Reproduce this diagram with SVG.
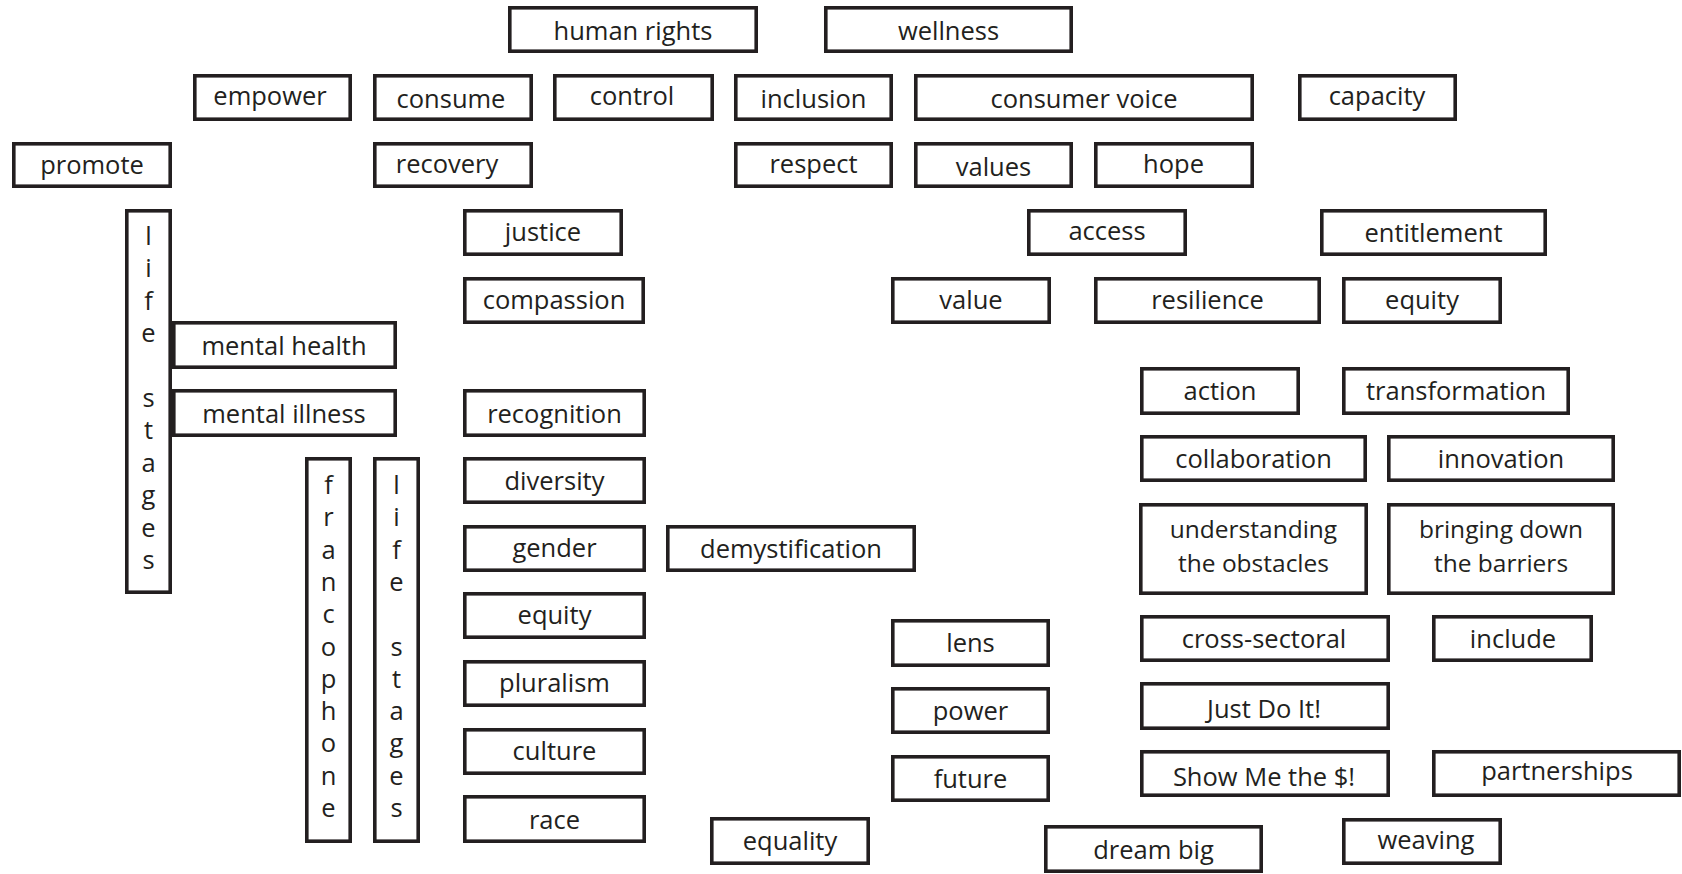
<svg xmlns="http://www.w3.org/2000/svg" width="1682" height="874" viewBox="0 0 1682 874">
<style>
.b{fill:#fff;stroke:#231f20;stroke-width:3.6}
.t{font-family:"Open Sans","DejaVu Sans",sans-serif;font-size:25.5px;fill:#231f20;text-anchor:middle}
.t2{font-size:24.5px}
</style>
<rect width="1682" height="874" fill="#fff"/>
<g id="connectors"/>
<g id="n-human-rights"><rect class="b" x="509.8" y="7.8" width="246.4" height="43.4"/><text class="t" x="633" y="39.5">human rights</text></g>
<g id="n-wellness"><rect class="b" x="825.8" y="7.8" width="245.4" height="43.4"/><text class="t" x="948.5" y="39.5">wellness</text></g>
<g id="n-empower"><rect class="b" x="194.8" y="75.8" width="155.4" height="43.4"/><text class="t" x="270" y="105">empower</text></g>
<g id="n-consume"><rect class="b" x="374.8" y="75.8" width="156.4" height="43.4"/><text class="t" x="451" y="108">consume</text></g>
<g id="n-control"><rect class="b" x="554.8" y="75.8" width="157.4" height="43.4"/><text class="t" x="632" y="105">control</text></g>
<g id="n-inclusion"><rect class="b" x="735.8" y="75.8" width="155.4" height="43.4"/><text class="t" x="813.5" y="108">inclusion</text></g>
<g id="n-consumer-voice"><rect class="b" x="915.8" y="75.8" width="336.4" height="43.4"/><text class="t" x="1084" y="108">consumer voice</text></g>
<g id="n-capacity"><rect class="b" x="1299.8" y="75.8" width="155.4" height="43.4"/><text class="t" x="1377" y="105">capacity</text></g>
<g id="n-promote"><rect class="b" x="13.8" y="143.8" width="156.4" height="42.4"/><text class="t" x="92" y="174">promote</text></g>
<g id="n-recovery"><rect class="b" x="374.8" y="143.8" width="156.4" height="42.4"/><text class="t" x="447" y="173">recovery</text></g>
<g id="n-respect"><rect class="b" x="735.8" y="143.8" width="155.4" height="42.4"/><text class="t" x="813.5" y="173">respect</text></g>
<g id="n-values"><rect class="b" x="915.8" y="143.8" width="155.4" height="42.4"/><text class="t" x="993.5" y="175.5">values</text></g>
<g id="n-hope"><rect class="b" x="1095.8" y="143.8" width="156.4" height="42.4"/><text class="t" x="1173.5" y="173">hope</text></g>
<g id="n-life-stages-1"><rect class="b" x="126.8" y="210.8" width="43.4" height="381.4"/><text class="t"><tspan x="148.5" y="245">l</tspan><tspan x="148.5" y="277.4">i</tspan><tspan x="148.5" y="309.8">f</tspan><tspan x="148.5" y="342.2">e</tspan><tspan x="148.5" y="407">s</tspan><tspan x="148.5" y="439.4">t</tspan><tspan x="148.5" y="471.8">a</tspan><tspan x="148.5" y="504.2">g</tspan><tspan x="148.5" y="536.6">e</tspan><tspan x="148.5" y="569">s</tspan></text></g>
<g id="n-justice"><rect class="b" x="464.8" y="210.8" width="156.4" height="43.4"/><text class="t" x="543" y="241">justice</text></g>
<g id="n-access"><rect class="b" x="1028.8" y="210.8" width="156.4" height="43.4"/><text class="t" x="1107" y="240">access</text></g>
<g id="n-entitlement"><rect class="b" x="1321.8" y="210.8" width="223.4" height="43.4"/><text class="t" x="1433.5" y="242">entitlement</text></g>
<g id="n-compassion"><rect class="b" x="464.8" y="278.8" width="178.4" height="43.4"/><text class="t" x="554" y="309">compassion</text></g>
<g id="n-value"><rect class="b" x="892.8" y="278.8" width="156.4" height="43.4"/><text class="t" x="971" y="309">value</text></g>
<g id="n-resilience"><rect class="b" x="1095.8" y="278.8" width="223.4" height="43.4"/><text class="t" x="1207.5" y="309">resilience</text></g>
<g id="n-equity-1"><rect class="b" x="1343.8" y="278.8" width="156.4" height="43.4"/><text class="t" x="1422" y="309">equity</text></g>
<g id="n-mental-health"><rect class="b" x="173.8" y="322.8" width="221.4" height="44.4"/><text class="t" x="284" y="355">mental health</text></g>
<g id="n-mental-illness"><rect class="b" x="173.8" y="390.8" width="221.4" height="44.4"/><text class="t" x="284" y="423">mental illness</text></g>
<g id="n-recognition"><rect class="b" x="464.8" y="390.8" width="179.4" height="44.4"/><text class="t" x="554.5" y="423">recognition</text></g>
<g id="n-action"><rect class="b" x="1141.8" y="368.8" width="156.4" height="44.4"/><text class="t" x="1220" y="400">action</text></g>
<g id="n-transformation"><rect class="b" x="1343.8" y="368.8" width="224.4" height="44.4"/><text class="t" x="1456" y="400">transformation</text></g>
<g id="n-collaboration"><rect class="b" x="1141.8" y="436.8" width="223.4" height="43.4"/><text class="t" x="1253.5" y="468">collaboration</text></g>
<g id="n-innovation"><rect class="b" x="1388.8" y="436.8" width="224.4" height="43.4"/><text class="t" x="1501" y="468">innovation</text></g>
<g id="n-francophone"><rect class="b" x="306.8" y="458.8" width="43.4" height="382.4"/><text class="t"><tspan x="328.5" y="494">f</tspan><tspan x="328.5" y="526.3">r</tspan><tspan x="328.5" y="558.6">a</tspan><tspan x="328.5" y="590.9">n</tspan><tspan x="328.5" y="623.2">c</tspan><tspan x="328.5" y="655.5">o</tspan><tspan x="328.5" y="687.8">p</tspan><tspan x="328.5" y="720.1">h</tspan><tspan x="328.5" y="752.4">o</tspan><tspan x="328.5" y="784.7">n</tspan><tspan x="328.5" y="817">e</tspan></text></g>
<g id="n-life-stages-2"><rect class="b" x="374.8" y="458.8" width="43.4" height="382.4"/><text class="t"><tspan x="396.5" y="494">l</tspan><tspan x="396.5" y="526.3">i</tspan><tspan x="396.5" y="558.6">f</tspan><tspan x="396.5" y="590.9">e</tspan><tspan x="396.5" y="655.5">s</tspan><tspan x="396.5" y="687.8">t</tspan><tspan x="396.5" y="720.1">a</tspan><tspan x="396.5" y="752.4">g</tspan><tspan x="396.5" y="784.7">e</tspan><tspan x="396.5" y="817">s</tspan></text></g>
<g id="n-diversity"><rect class="b" x="464.8" y="458.8" width="179.4" height="43.4"/><text class="t" x="554.5" y="490">diversity</text></g>
<g id="n-understanding"><rect class="b" x="1140.8" y="504.8" width="225.4" height="88.4"/><text class="t t2"><tspan x="1253.5" y="538">understanding</tspan><tspan x="1253.5" y="572">the obstacles</tspan></text></g>
<g id="n-bringing-down"><rect class="b" x="1388.8" y="504.8" width="224.4" height="88.4"/><text class="t t2"><tspan x="1501" y="538">bringing down</tspan><tspan x="1501" y="572">the barriers</tspan></text></g>
<g id="n-gender"><rect class="b" x="464.8" y="526.8" width="179.4" height="43.4"/><text class="t" x="554.5" y="557">gender</text></g>
<g id="n-demystification"><rect class="b" x="667.8" y="526.8" width="246.4" height="43.4"/><text class="t" x="791" y="558">demystification</text></g>
<g id="n-equity-2"><rect class="b" x="464.8" y="593.8" width="179.4" height="43.4"/><text class="t" x="554.5" y="624">equity</text></g>
<g id="n-cross-sectoral"><rect class="b" x="1141.8" y="616.8" width="246.4" height="43.4"/><text class="t" x="1264" y="648">cross-sectoral</text></g>
<g id="n-include"><rect class="b" x="1433.8" y="616.8" width="157.4" height="43.4"/><text class="t" x="1513" y="648">include</text></g>
<g id="n-lens"><rect class="b" x="892.8" y="620.8" width="155.4" height="44.4"/><text class="t" x="970.5" y="652">lens</text></g>
<g id="n-pluralism"><rect class="b" x="464.8" y="661.8" width="179.4" height="43.4"/><text class="t" x="554.5" y="692">pluralism</text></g>
<g id="n-just-do-it"><rect class="b" x="1141.8" y="683.8" width="246.4" height="44.4"/><text class="t" x="1264" y="718">Just Do It!</text></g>
<g id="n-power"><rect class="b" x="892.8" y="688.8" width="155.4" height="43.4"/><text class="t" x="970.5" y="720">power</text></g>
<g id="n-culture"><rect class="b" x="464.8" y="729.8" width="179.4" height="43.4"/><text class="t" x="554.5" y="760">culture</text></g>
<g id="n-show-me"><rect class="b" x="1141.8" y="751.8" width="246.4" height="43.4"/><text class="t" x="1264" y="786">Show Me the $!</text></g>
<g id="n-partnerships"><rect class="b" x="1433.8" y="751.8" width="245.4" height="43.4"/><text class="t" x="1557" y="780">partnerships</text></g>
<g id="n-future"><rect class="b" x="892.8" y="756.8" width="155.4" height="43.4"/><text class="t" x="970.5" y="788">future</text></g>
<g id="n-race"><rect class="b" x="464.8" y="796.8" width="179.4" height="44.4"/><text class="t" x="554.5" y="829">race</text></g>
<g id="n-equality"><rect class="b" x="711.8" y="818.8" width="156.4" height="44.4"/><text class="t" x="790" y="850">equality</text></g>
<g id="n-weaving"><rect class="b" x="1343.8" y="819.8" width="156.4" height="43.4"/><text class="t" x="1426" y="849">weaving</text></g>
<g id="n-dream-big"><rect class="b" x="1045.8" y="826.8" width="215.4" height="44.4"/><text class="t" x="1153.5" y="859">dream big</text></g>
</svg>
